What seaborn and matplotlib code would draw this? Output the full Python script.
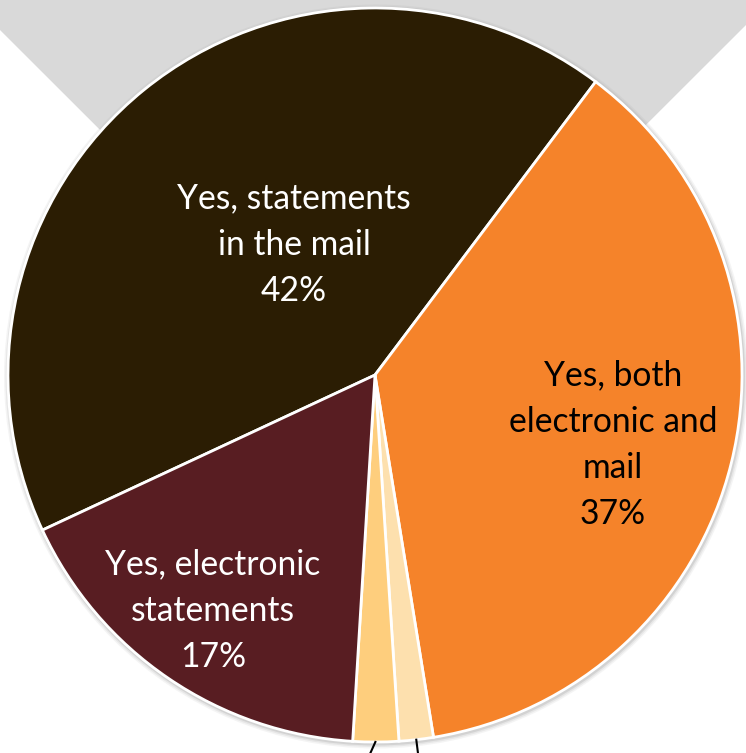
import matplotlib
matplotlib.use("Agg")
import matplotlib.pyplot as plt
import numpy as np
import seaborn as sns
from matplotlib.patches import Polygon, Circle

# Survey answers: does the respondent receive account statements?
categories = [
    "Yes, statements\nin the mail",
    "Yes, both\nelectronic and\nmail",
    "Don't know",
    "No",
    "Yes, electronic\nstatements",
]
shares = [42, 37, 1.5, 2, 17]
slice_colors = ["#2B1D03", "#F5832A", "#FDE0AE", "#FECE7D", "#581D22"]
text_colors = ["white", "black", "black", "black", "white"]

sns.set_theme(style="white")
plt.rcParams["font.family"] = ["Lato", "DejaVu Sans"]

W, H = 746, 753
fig = plt.figure(figsize=(W / 100, H / 100), dpi=100)
ax = fig.add_axes([0, 0, 1, 1])

# grey funnel backdrop behind the pie
backdrop = Polygon(
    [(0, H), (W, H), (W, H - 25), (370.5, H - 400), (0, H - 30)],
    closed=True, facecolor="#D9D9D9", edgecolor="none", zorder=0,
)
ax.add_patch(backdrop)

cx, cy, r = 375, H - 375, 367
start = 205

# soft drop shadow around the disc
for grow, alpha in [(5, 0.10), (3.5, 0.15), (2, 0.25)]:
    ax.add_patch(Circle((cx + 1, cy - 1.5), r + grow, facecolor="#9a9a9a",
                        edgecolor="none", alpha=alpha, zorder=1))

wedges, _ = ax.pie(
    shares,
    colors=slice_colors,
    startangle=start,
    counterclock=False,
    center=(cx, cy),
    radius=r,
    frame=True,
    wedgeprops=dict(edgecolor="white", linewidth=2),
)
for w in wedges:
    w.set_zorder(2)
ax.set_xlim(0, W)
ax.set_ylim(0, H)
ax.set_aspect("equal")
ax.axis("off")

# in-slice labels for the three large answers
label_pos = {0: (294, H - 245), 1: (613, H - 445), 4: (213, H - 611)}
for i, (x, y) in label_pos.items():
    ax.text(x, y, f"{categories[i]}\n{shares[i]:.0f}%", ha="center", va="center",
            fontsize=24.2, color=text_colors[i], linespacing=1.55, zorder=3)

# leader lines running down from the two thin slices
theta = float(start)
total = sum(shares)
for i, s in enumerate(shares):
    span = s / total * 360
    mid = np.deg2rad(theta - span / 2)
    theta -= span
    if i in (2, 3):
        ex, ey = cx + (r - 1) * np.cos(mid), cy + (r - 1) * np.sin(mid)
        dx = -9 if i == 3 else 2.5
        ax.plot([ex, ex + dx], [ey, ey - 20], color="black", lw=1.5,
                solid_capstyle="butt", zorder=3, clip_on=False)

fig.savefig("out.png", dpi=100)
